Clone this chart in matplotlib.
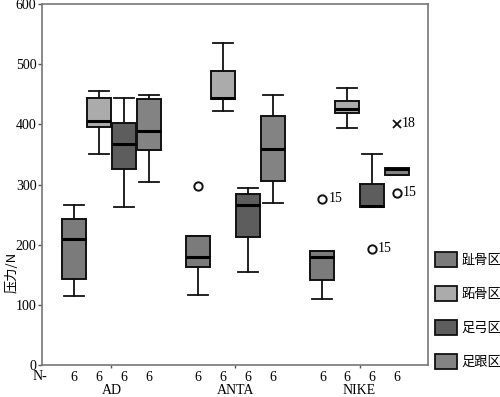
import matplotlib
matplotlib.use("Agg")
import matplotlib.pyplot as plt
from matplotlib.patches import Patch
import matplotlib.transforms as mtransforms

plt.rcParams['font.family'] = ['Liberation Serif', 'Noto Sans CJK SC']

brands = ['AD', 'ANTA', 'NIKE']
regions = ['趾骨区', '跖骨区', '足弓区', '足跟区']
region_colors = ['#7b7b7b', '#ababab', '#5d5d5d', '#838383']
counts = [6] * 12

# 每组四个区域: 趾骨区, 跖骨区, 足弓区, 足跟区
whishi = [266, 456, 443, 448,  214, 535, 295, 448,  190, 460, 350, 328]
q3 = [242, 443, 402, 442,  214, 489, 284, 414,  190, 439, 301, 328]
med = [209, 406, 368, 389,  180, 444, 266, 359,  179, 425, 264, 326]
q1 = [143, 396, 325, 358,  163, 442, 213, 306,  142, 419, 262, 315]
whislo = [115, 351, 263, 304,  116, 422, 155, 270,  110, 394, 262, 315]

# 异常值: 箱号, 数值, 标号
out_box = [4, 8, 10, 11]
out_val = [297, 276, 193, 286]
out_lab = ['', '15', '15', '15']
ext_box = [11]
ext_val = [401]
ext_lab = ['18']

group_gap = 5.0
offsets = [-1.5, -0.5, 0.5, 1.5]
positions = []
for g in range(len(brands)):
    for o in offsets:
        positions.append(g * group_gap + o)

stats = []
for i in range(12):
    stats.append({'med': med[i], 'q1': q1[i], 'q3': q3[i],
                  'whislo': whislo[i], 'whishi': whishi[i], 'fliers': []})

fig = plt.figure(figsize=(5, 3.97), dpi=100)
ax = fig.add_axes([42 / 500, 32 / 397, 386 / 500, 361 / 397])

bp = ax.bxp(stats, positions=positions, widths=0.98, capwidths=0.82,
            patch_artist=True, showfliers=False,
            boxprops=dict(linewidth=1.4, edgecolor='#111111'),
            whiskerprops=dict(linewidth=1.3, color='#111111'),
            capprops=dict(linewidth=1.3, color='#111111'),
            medianprops=dict(linewidth=2.2, color='#000000'))
for i, b in enumerate(bp['boxes']):
    b.set_facecolor(region_colors[i % 4])

for bi, v, lab in zip(out_box, out_val, out_lab):
    x = positions[bi]
    ax.plot(x, v, 'o', ms=6, mfc='white', mec='#111111', mew=1.4)
    if lab:
        ax.text(x + 0.25, v, lab, fontsize=10, va='center', ha='left')
for bi, v, lab in zip(ext_box, ext_val, ext_lab):
    x = positions[bi]
    ax.plot(x, v, 'x', ms=5.5, color='#111111', mew=1.3)
    ax.text(x + 0.2, v, lab, fontsize=10, va='center', ha='left')

ax.set_xlim(-2.8, 12.76)
ax.set_ylim(0, 600)
ax.set_yticks([0, 100, 200, 300, 400, 500, 600])
ax.tick_params(axis='y', labelsize=10, length=3, width=1, color='#555555', pad=1)
ax.set_xticks([g * group_gap for g in range(len(brands))])
ax.set_xticklabels([''] * len(brands))
ax.tick_params(axis='x', length=2, width=1, color='#555555')
for s in ax.spines.values():
    s.set_color('#777777')
    s.set_linewidth(1.2)

trans = mtransforms.blended_transform_factory(ax.transData, ax.transAxes)
for x, n in zip(positions, counts):
    ax.text(x, -0.034, str(n), transform=trans, ha='center', va='center', fontsize=10)
for g, name in enumerate(brands):
    ax.text(g * group_gap, -0.072, name, transform=trans, ha='center', va='center', fontsize=10)
fig.text(33 / 500, 1 - 377 / 397, 'N-', ha='left', va='center', fontsize=10)

fig.text(12 / 500, 1 - 272 / 397, '压力/N', rotation=90, ha='center', va='center', fontsize=9.5,
         family=['Noto Sans CJK SC', 'Liberation Serif'])

handles = [Patch(facecolor=c, edgecolor='#111111', linewidth=1.3) for c in region_colors]
leg = fig.legend(handles, regions, loc='lower left', bbox_to_anchor=(435 / 500, 28 / 397),
                 frameon=False, handlelength=1.65, handleheight=1.35, labelspacing=1.45,
                 handletextpad=0.35, borderaxespad=0, borderpad=0,
                 prop={'family': 'Noto Sans CJK SC', 'size': 9.5})

fig.savefig('out.png', dpi=100)
